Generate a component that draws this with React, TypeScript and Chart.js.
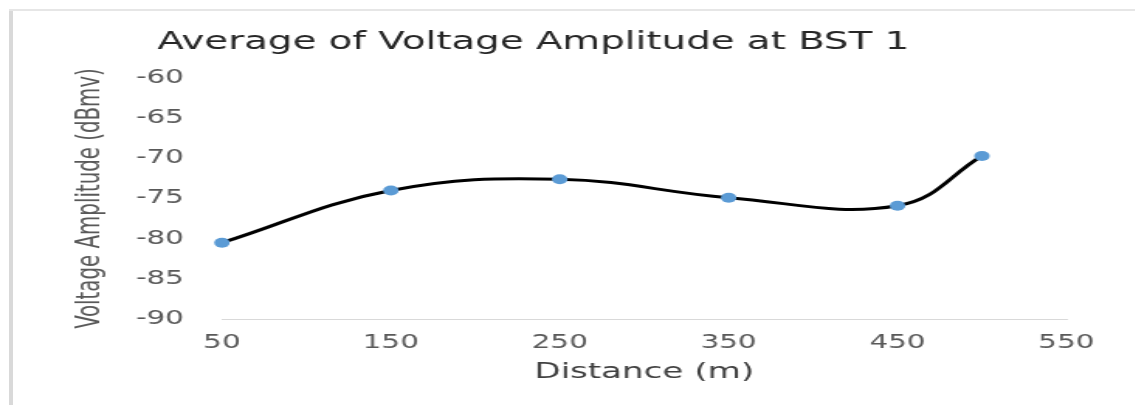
import { useEffect, useRef } from 'react';
import { Chart, registerables } from 'chart.js';

Chart.register(...registerables);

// ---- data ----
const distances = [50, 150, 250, 350, 450, 500];
const amplitudes = [-80.5, -74, -72.6, -74.9, -75.9, -69.7];
const xTickValues = [50, 150, 250, 350, 450, 550];
const yTickValues = [-90, -85, -80, -75, -70, -65, -60];
const chartTitle = 'Average of Voltage Amplitude at BST 1';
const xTitle = 'Distance (m)';
const yTitle = 'Voltage Amplitude (dBmv)';

// ---- layout (the reference is horizontally stretched) ----
const SX = 1.55;
const CW = 742;
const CH = 405;
const FONT = "'DejaVu Sans', sans-serif";

export default function App() {
  const ref = useRef<HTMLCanvasElement | null>(null);

  useEffect(() => {
    if (!ref.current) return;
    const chart = new Chart(ref.current, {
      type: 'line',
      data: {
        datasets: [
          {
            data: distances.map((x, i) => ({ x, y: amplitudes[i] })),
            borderColor: '#000000',
            borderWidth: 3,
            tension: 0.4,
            fill: false,
            clip: false,
            pointRadius: 5,
            pointHoverRadius: 5,
            pointBackgroundColor: '#5b9bd5',
            pointBorderColor: '#5b9bd5',
            pointBorderWidth: 0,
          },
        ],
      },
      options: {
        animation: false,
        responsive: false,
        devicePixelRatio: 1,
        events: [],
        layout: { padding: { left: 0, right: 54, top: 0, bottom: 15.4 } },
        font: { family: FONT },
        plugins: {
          legend: { display: false },
          tooltip: { enabled: false },
          title: {
            display: true,
            text: chartTitle,
            color: '#262626',
            font: { family: FONT, size: 25, weight: 'normal' },
            padding: { top: 27, bottom: 21 },
          },
        },
        scales: {
          x: {
            type: 'linear',
            min: 50,
            max: 550,
            grid: { display: false, drawTicks: false },
            border: { display: true, color: '#d9d9d9', width: 1 },
            ticks: {
              color: '#595959',
              font: { family: FONT, size: 19 },
              padding: 12.5,
              maxRotation: 0,
            },
            afterBuildTicks: (s: any) => {
              s.ticks = xTickValues.map((v) => ({ value: v }));
            },
            afterFit: (s: any) => {
              s.height = 70.6;
            },
            title: {
              display: true,
              text: xTitle,
              color: '#404040',
              font: { family: FONT, size: 22 },
              padding: { top: 4, bottom: 4 },
            },
          },
          y: {
            type: 'linear',
            min: -90,
            max: -60,
            grid: { display: false, drawTicks: false },
            border: { display: false },
            ticks: {
              color: '#595959',
              font: { family: FONT, size: 19 },
              padding: 24.5,
            },
            afterBuildTicks: (s: any) => {
              s.ticks = yTickValues.map((v) => ({ value: v }));
            },
            afterFit: (s: any) => {
              s.width = 143.2;
            },
            title: {
              display: true,
              text: yTitle,
              color: '#595959',
              font: { family: "'Liberation Sans Narrow', 'DejaVu Sans Condensed', sans-serif", size: 22 },
              padding: { top: 45.5, bottom: 0 },
            },
          },
        },
      },
    } as any);
    return () => chart.destroy();
  }, []);

  return (
    <div
      style={{
        position: 'fixed',
        left: 0,
        top: 0,
        width: 1135,
        height: 405,
        overflow: 'hidden',
        background: '#ffffff',
      }}
    >
      <div style={{ position: 'absolute', left: 9, top: 10, width: 4, height: 395, background: '#d9d9d9' }} />
      <div style={{ position: 'absolute', left: 9, top: 9, width: 1126, height: 2, background: '#e6e6e6' }} />
      <div
        style={{
          position: 'absolute',
          left: 0,
          top: 0,
          width: CW,
          height: CH,
          transform: `scaleX(${SX})`,
          transformOrigin: '0 0',
        }}
      >
        <canvas ref={ref} width={CW} height={CH} style={{ width: CW, height: CH, display: 'block' }} />
      </div>
    </div>
  );
}
